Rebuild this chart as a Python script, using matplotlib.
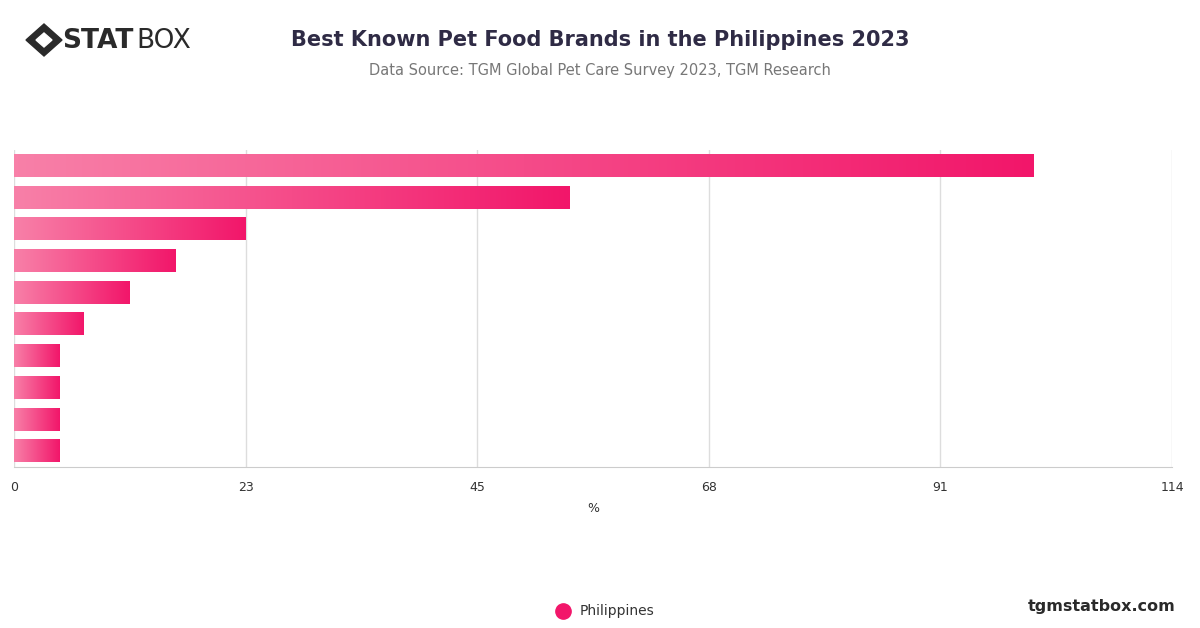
import numpy as np
import matplotlib.pyplot as plt
from matplotlib.colors import LinearSegmentedColormap
from matplotlib.patches import Polygon

values = [100.4, 54.7, 22.8, 15.9, 11.4, 6.8, 4.5, 4.5, 4.5, 4.5]
tick_vals = [0, 22.8, 45.6, 68.4, 91.2, 114]
tick_labels = ["0", "23", "45", "68", "91", "114"]

cmap = LinearSegmentedColormap.from_list("pink", ["#f880a8", "#f2166a"])

fig = plt.figure(figsize=(12, 6.28), dpi=100)
ax = fig.add_axes([14 / 1200, 1 - 467 / 628, 1158 / 1200, 317 / 628])

n = len(values)
grad = np.linspace(0, 1, 256).reshape(1, -1)
for i, v in enumerate(values):
    y = n - 1 - i
    ax.imshow(grad, cmap=cmap, aspect="auto", extent=[0, v, y - 0.35, y + 0.35], zorder=3)

ax.set_xlim(0, 114)
ax.set_ylim(-0.5, n - 0.5)
ax.set_xticks(tick_vals)
ax.set_xticklabels(tick_labels, fontsize=9, color="#333333")
ax.set_yticks([])
ax.tick_params(axis="x", length=0, pad=10)
ax.grid(axis="x", color="#dddddd", linewidth=1, zorder=0)
for s in ["top", "right", "left"]:
    ax.spines[s].set_visible(False)
ax.spines["bottom"].set_color("#cccccc")
ax.set_xlabel("%", fontsize=9, color="#333333", labelpad=6)

fig.text(0.5, 1 - 40 / 628, "Best Known Pet Food Brands in the Philippines 2023",
         ha="center", va="center", fontsize=15, fontweight="bold", color="#2f2b45")
fig.text(0.5, 1 - 71 / 628, "Data Source: TGM Global Pet Care Survey 2023, TGM Research",
         ha="center", va="center", fontsize=10.5, color="#777777")

# logo
fig.text(62 / 1200, 1 - 41 / 628, "STAT", ha="left", va="center", fontsize=19,
         fontweight="bold", color="#2a2a2a")
fig.text(136 / 1200, 1 - 41 / 628, "BOX", ha="left", va="center", fontsize=19, color="#2a2a2a")
cx, cy = 44, 40
fig.patches.append(Polygon([((cx - 18) / 1200, 1 - cy / 628), (cx / 1200, 1 - (cy - 16) / 628),
                            ((cx + 18) / 1200, 1 - cy / 628), (cx / 1200, 1 - (cy + 16) / 628)],
                           closed=True, transform=fig.transFigure, color="#2a2a2a"))
fig.patches.append(Polygon([((cx - 8) / 1200, 1 - cy / 628), (cx / 1200, 1 - (cy - 7) / 628),
                            ((cx + 8) / 1200, 1 - cy / 628), (cx / 1200, 1 - (cy + 7) / 628)],
                           closed=True, transform=fig.transFigure, color="white"))

fig.text(1176 / 1200, 1 - 606 / 628, "tgmstatbox.com", ha="right", va="center",
         fontsize=11.5, fontweight="bold", color="#2a2a2a")

# legend
fig.add_artist(plt.Line2D([563 / 1200], [1 - 611 / 628], marker="o", markersize=11,
                          color="#f2166a", transform=fig.transFigure))
fig.text(580 / 1200, 1 - 611 / 628, "Philippines", ha="left", va="center",
         fontsize=10, color="#333333")

fig.savefig("out.png", dpi=100)
